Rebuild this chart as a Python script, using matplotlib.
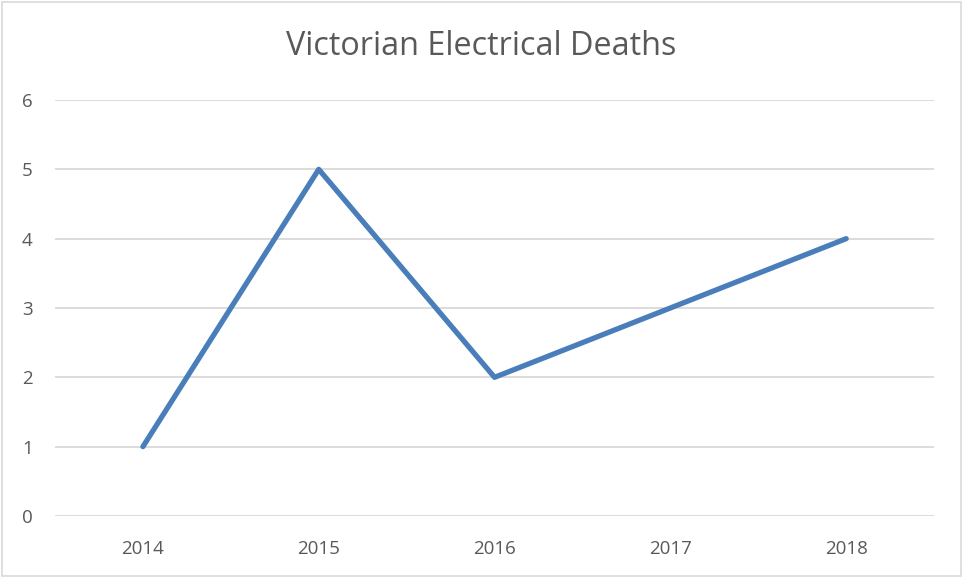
import matplotlib.pyplot as plt
from matplotlib.patches import Rectangle

years = ['2014', '2015', '2016', '2017', '2018']
deaths = [1, 5, 2, 3, 4]
y_ticks = [0, 1, 2, 3, 4, 5, 6]

text_color = '#595959'
grid_color = '#d9d9d9'
line_color = '#4a7ebb'

plt.rcParams['font.family'] = ['Open Sans', 'DejaVu Sans']

fig = plt.figure(figsize=(9.63, 5.78), dpi=100)
ax = fig.add_axes([0.0571, 0.1073, 0.9129, 0.7197])

x = list(range(len(years)))
ax.plot(x, deaths, color=line_color, lw=3.8, solid_capstyle='round',
        solid_joinstyle='round', zorder=3)

ax.set_xlim(-0.5, len(years) - 0.5)
ax.set_ylim(0, 6)
ax.set_xticks(x)
ax.set_xticklabels(years)
ax.set_yticks(y_ticks)
ax.tick_params(length=0, labelsize=13.5, colors=text_color)
ax.tick_params(axis='x', pad=17)
ax.tick_params(axis='y', pad=16)

for v in y_ticks:
    ax.axhline(v, color=grid_color, lw=1.3, zorder=1)
for s in ax.spines.values():
    s.set_visible(False)

fig.text(0.5, 0.919, 'Victorian Electrical Deaths', ha='center', va='center',
         fontsize=23.3, color=text_color)

# chart border
fig.patches.append(Rectangle((0.002, 0.003), 0.996, 0.994, transform=fig.transFigure,
                             fill=False, edgecolor='#d9d9d9', lw=1.2))

fig.savefig('out.png', dpi=100)
